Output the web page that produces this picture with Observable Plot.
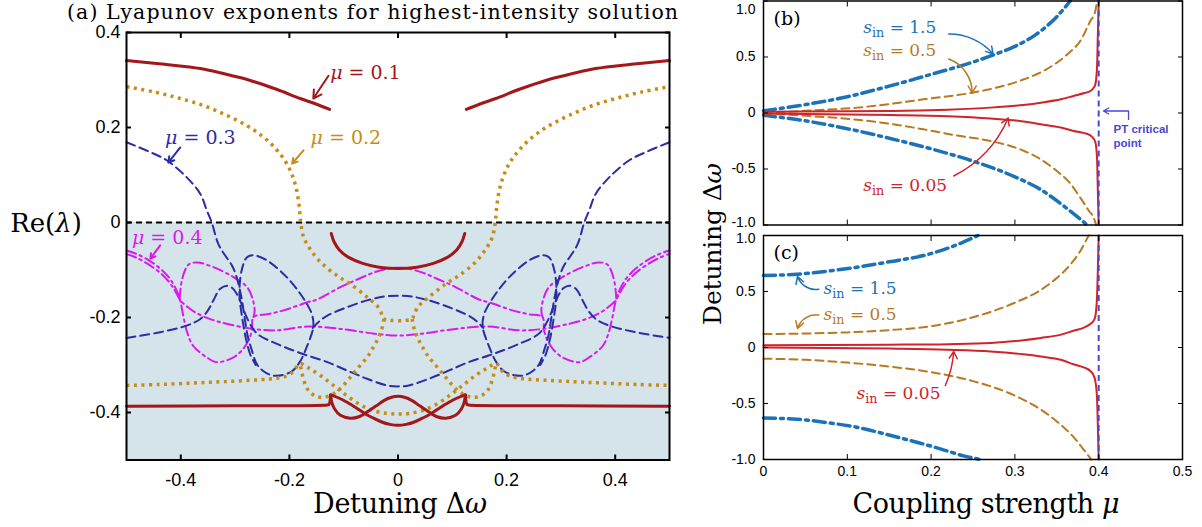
<!DOCTYPE html>
<html><head><meta charset="utf-8">
<script src="https://cdn.jsdelivr.net/npm/d3@7"></script>
<script src="https://cdn.jsdelivr.net/npm/@observablehq/plot@0.6"></script>
<style>
body{margin:0;background:#fff;}
#wrap{position:relative;width:1202px;height:527px;overflow:hidden;background:#fff;}
#wrap svg{position:absolute;overflow:visible;}
</style></head><body><div id="wrap"></div>
<script>
// ================= DATA =================
// Panel (a): Re(lambda) vs detuning, for mu = 0.1, 0.2, 0.3, 0.4
const aXDomain = [-0.5, 0.5];
const aYDomain = [-0.5, 0.4];
const aXTicks = [-0.4, -0.2, 0, 0.2, 0.4];
const aYTicks = [-0.4, -0.2, 0, 0.2, 0.4];
const stabilityThreshold = 0;

// mu = 0.1
const mu01_upperLeft = [[-0.5,0.341],[-0.43,0.333],[-0.364,0.324],[-0.32,0.313],[-0.272,0.299],[-0.225,0.281],[-0.18,0.261],[-0.15,0.249],[-0.126,0.238]];
const mu01_upperRight = [[0.126,0.238],[0.15,0.249],[0.18,0.261],[0.225,0.281],[0.272,0.299],[0.32,0.313],[0.364,0.324],[0.43,0.333],[0.5,0.341]];
const mu01_arc = [[-0.123,-0.023],[-0.118,-0.04],[-0.108,-0.058],[-0.09,-0.074],[-0.065,-0.086],[-0.035,-0.094],[0,-0.097],[0.035,-0.094],[0.065,-0.086],[0.09,-0.074],[0.108,-0.058],[0.118,-0.04],[0.123,-0.023]];
const mu01_floorLeft = [[-0.5,-0.387],[-0.3,-0.386],[-0.13,-0.384],[-0.127,-0.383],[-0.124,-0.363]];
const mu01_floorRight = [[0.124,-0.363],[0.127,-0.383],[0.13,-0.384],[0.3,-0.386],[0.5,-0.387]];
const mu01_lensLow = [[-0.124,-0.363],[-0.108,-0.37],[-0.093,-0.379],[-0.076,-0.391],[-0.06,-0.403],[-0.045,-0.412],[-0.03,-0.42],[-0.015,-0.425],[0,-0.427],[0.015,-0.425],[0.03,-0.42],[0.045,-0.412],[0.06,-0.403],[0.076,-0.391],[0.093,-0.379],[0.108,-0.37],[0.124,-0.363]];
const mu01_lensHigh = [[-0.124,-0.363],[-0.122,-0.378],[-0.117,-0.392],[-0.106,-0.406],[-0.088,-0.412],[-0.072,-0.409],[-0.057,-0.399],[-0.04,-0.386],[-0.026,-0.375],[-0.012,-0.368],[0,-0.366],[0.012,-0.368],[0.026,-0.375],[0.04,-0.386],[0.057,-0.399],[0.072,-0.409],[0.088,-0.412],[0.106,-0.406],[0.117,-0.392],[0.122,-0.378],[0.124,-0.363]];

// mu = 0.2
const mu02_upper = [[-0.5,0.286],[-0.45,0.275],[-0.404,0.262],[-0.36,0.247],[-0.32,0.228],[-0.28,0.205],[-0.25,0.182],[-0.225,0.155],[-0.207,0.128],[-0.195,0.1],[-0.187,0.07],[-0.182,0.035],[-0.179,0],[-0.174,-0.03],[-0.164,-0.052],[-0.143,-0.083],[-0.112,-0.112],[-0.087,-0.13],[-0.057,-0.157],[-0.038,-0.176],[-0.029,-0.195],[-0.026,-0.203],[0.026,-0.203],[0.029,-0.195],[0.038,-0.176],[0.057,-0.157],[0.087,-0.13],[0.112,-0.112],[0.143,-0.083],[0.164,-0.052],[0.174,-0.03],[0.179,0],[0.182,0.035],[0.187,0.07],[0.195,0.1],[0.207,0.128],[0.225,0.155],[0.25,0.182],[0.28,0.205],[0.32,0.228],[0.36,0.247],[0.404,0.262],[0.45,0.275],[0.5,0.286]];
const mu02_bowlLeft = [[-0.026,-0.203],[-0.03,-0.225],[-0.036,-0.242],[-0.045,-0.262],[-0.057,-0.284],[-0.072,-0.304],[-0.088,-0.326],[-0.104,-0.347],[-0.119,-0.361],[-0.137,-0.368],[-0.153,-0.365],[-0.166,-0.352],[-0.174,-0.33],[-0.178,-0.31],[-0.181,-0.297]];
const mu02_bowlRight = [[0.026,-0.203],[0.03,-0.225],[0.036,-0.242],[0.045,-0.262],[0.057,-0.284],[0.072,-0.304],[0.088,-0.326],[0.104,-0.347],[0.119,-0.361],[0.137,-0.368],[0.153,-0.365],[0.166,-0.352],[0.174,-0.33],[0.178,-0.31],[0.181,-0.297]];
const mu02_floor = [[-0.5,-0.343],[-0.44,-0.341],[-0.378,-0.338],[-0.32,-0.335],[-0.255,-0.331],[-0.224,-0.328],[-0.205,-0.323],[-0.192,-0.313],[-0.181,-0.297],[-0.165,-0.306],[-0.143,-0.322],[-0.119,-0.343],[-0.095,-0.364],[-0.069,-0.384],[-0.045,-0.396],[-0.02,-0.402],[0,-0.403],[0.02,-0.402],[0.045,-0.396],[0.069,-0.384],[0.095,-0.364],[0.119,-0.343],[0.143,-0.322],[0.165,-0.306],[0.181,-0.297],[0.192,-0.313],[0.205,-0.323],[0.224,-0.328],[0.255,-0.331],[0.32,-0.335],[0.378,-0.338],[0.44,-0.341],[0.5,-0.343]];

// mu = 0.3
const mu03_branchLeft = [[-0.5,0.169],[-0.46,0.15],[-0.426,0.131],[-0.389,0.095],[-0.364,0.06],[-0.352,0.025],[-0.343,0],[-0.331,-0.045],[-0.318,-0.07],[-0.306,-0.09],[-0.298,-0.112],[-0.289,-0.154],[-0.283,-0.196],[-0.277,-0.238],[-0.27,-0.266],[-0.26,-0.298],[-0.249,-0.312],[-0.231,-0.322],[-0.212,-0.321],[-0.194,-0.312],[-0.181,-0.294],[-0.168,-0.262],[-0.156,-0.22],[-0.158,-0.195],[-0.166,-0.175],[-0.18,-0.15],[-0.205,-0.115],[-0.241,-0.08],[-0.266,-0.069],[-0.278,-0.073],[-0.288,-0.101],[-0.292,-0.15],[-0.287,-0.2],[-0.28,-0.245],[-0.272,-0.278],[-0.262,-0.3]];
const mu03_branchRight = [[0.5,0.169],[0.46,0.15],[0.426,0.131],[0.389,0.095],[0.364,0.06],[0.352,0.025],[0.343,0],[0.331,-0.045],[0.318,-0.07],[0.306,-0.09],[0.298,-0.112],[0.289,-0.154],[0.283,-0.196],[0.277,-0.238],[0.27,-0.266],[0.26,-0.298],[0.249,-0.312],[0.231,-0.322],[0.212,-0.321],[0.194,-0.312],[0.181,-0.294],[0.168,-0.262],[0.156,-0.22],[0.158,-0.195],[0.166,-0.175],[0.18,-0.15],[0.205,-0.115],[0.241,-0.08],[0.266,-0.069],[0.278,-0.073],[0.288,-0.101],[0.292,-0.15],[0.287,-0.2],[0.28,-0.245],[0.272,-0.278],[0.262,-0.3]];
const mu03_wave = [[-0.5,-0.243],[-0.438,-0.231],[-0.389,-0.217],[-0.364,-0.203],[-0.35,-0.185],[-0.34,-0.164],[-0.328,-0.14],[-0.315,-0.133],[-0.305,-0.138],[-0.297,-0.15],[-0.288,-0.172],[-0.28,-0.196],[-0.267,-0.224],[-0.255,-0.238],[-0.224,-0.255],[-0.194,-0.269],[-0.167,-0.28],[-0.13,-0.294],[-0.093,-0.312],[-0.057,-0.329],[-0.02,-0.343],[0,-0.345],[0.02,-0.343],[0.057,-0.329],[0.093,-0.312],[0.13,-0.294],[0.167,-0.28],[0.194,-0.269],[0.224,-0.255],[0.255,-0.238],[0.267,-0.224],[0.28,-0.196],[0.288,-0.172],[0.297,-0.15],[0.305,-0.138],[0.315,-0.133],[0.328,-0.14],[0.34,-0.164],[0.35,-0.185],[0.364,-0.203],[0.389,-0.217],[0.438,-0.231],[0.5,-0.243]];
const mu03_arc = [[-0.157,-0.222],[-0.145,-0.208],[-0.13,-0.196],[-0.093,-0.178],[-0.057,-0.164],[-0.026,-0.156],[0,-0.154],[0.026,-0.156],[0.057,-0.164],[0.093,-0.178],[0.13,-0.196],[0.145,-0.208],[0.157,-0.222]];

// mu = 0.4
const mu04_outer = [[-0.5,-0.059],[-0.482,-0.066],[-0.464,-0.076],[-0.439,-0.096],[-0.421,-0.117],[-0.409,-0.14],[-0.401,-0.165],[-0.395,-0.199],[-0.388,-0.232],[-0.377,-0.26],[-0.352,-0.284],[-0.334,-0.294],[-0.303,-0.284],[-0.285,-0.266],[-0.274,-0.245],[-0.269,-0.227],[-0.266,-0.199],[-0.24,-0.193],[-0.211,-0.185],[-0.167,-0.168],[-0.149,-0.162],[-0.106,-0.136],[-0.075,-0.12],[-0.044,-0.105],[-0.014,-0.096],[0,-0.095],[0.014,-0.096],[0.044,-0.105],[0.075,-0.12],[0.106,-0.136],[0.149,-0.162],[0.167,-0.168],[0.211,-0.185],[0.24,-0.193],[0.266,-0.199],[0.269,-0.227],[0.274,-0.245],[0.285,-0.266],[0.303,-0.284],[0.334,-0.294],[0.352,-0.284],[0.377,-0.26],[0.388,-0.232],[0.395,-0.199],[0.401,-0.165],[0.409,-0.14],[0.421,-0.117],[0.439,-0.096],[0.464,-0.076],[0.482,-0.066],[0.5,-0.059]];
const mu04_inner = [[-0.5,-0.066],[-0.482,-0.074],[-0.464,-0.085],[-0.439,-0.105],[-0.421,-0.126],[-0.41,-0.145],[-0.4,-0.165],[-0.385,-0.18],[-0.372,-0.19],[-0.347,-0.203],[-0.316,-0.213],[-0.267,-0.224],[-0.224,-0.227],[-0.167,-0.219],[-0.106,-0.224],[-0.044,-0.234],[0,-0.238],[0.044,-0.234],[0.106,-0.224],[0.167,-0.219],[0.224,-0.227],[0.267,-0.224],[0.316,-0.213],[0.347,-0.203],[0.372,-0.19],[0.385,-0.18],[0.4,-0.165],[0.41,-0.145],[0.421,-0.126],[0.439,-0.105],[0.464,-0.085],[0.482,-0.074],[0.5,-0.066]];
const mu04_loopLeft = [[-0.402,-0.16],[-0.401,-0.145],[-0.398,-0.122],[-0.392,-0.1],[-0.385,-0.088],[-0.37,-0.084],[-0.34,-0.094],[-0.303,-0.115],[-0.278,-0.136],[-0.268,-0.16],[-0.264,-0.185],[-0.266,-0.199]];
const mu04_loopRight = [[0.402,-0.16],[0.401,-0.145],[0.398,-0.122],[0.392,-0.1],[0.385,-0.088],[0.37,-0.084],[0.34,-0.094],[0.303,-0.115],[0.278,-0.136],[0.268,-0.16],[0.264,-0.185],[0.266,-0.199]];

const aLabels = [
  {text: "μ = 0.1", x: -0.125, y: 0.314, series: "mu01"},
  {text: "μ = 0.2", x: -0.161, y: 0.179, series: "mu02"},
  {text: "μ = 0.3", x: -0.429, y: 0.179, series: "mu03"},
  {text: "μ = 0.4", x: -0.49, y: -0.032, series: "mu04"}
];
const aPointers = [
  {x1: -0.128, y1: 0.309, x2: -0.156, y2: 0.261, series: "mu01"},
  {x1: -0.174, y1: 0.152, x2: -0.195, y2: 0.124, series: "mu02"},
  {x1: -0.401, y1: 0.158, x2: -0.423, y2: 0.126, series: "mu03"},
  {x1: -0.438, y1: -0.048, x2: -0.456, y2: -0.076, series: "mu04"}
];

// Panels (b), (c): detuning vs coupling strength mu, for s_in = 1.5, 0.5, 0.05
const muDomain = [0, 0.5];
const dwDomain = [-1, 1];
const muTicks = [0, 0.1, 0.2, 0.3, 0.4, 0.5];
const dwTicks = [-1, -0.5, 0, 0.5, 1];
const ptCritical = 0.4;

const b_s15_up = [[0,0.02],[0.05,0.075],[0.1,0.145],[0.15,0.24],[0.2,0.345],[0.25,0.455],[0.275,0.52],[0.3,0.595],[0.325,0.7],[0.35,0.86],[0.366,1.0]];
const b_s15_lo = [[0,-0.02],[0.05,-0.07],[0.1,-0.14],[0.15,-0.225],[0.2,-0.32],[0.25,-0.43],[0.3,-0.57],[0.33,-0.68],[0.36,-0.84],[0.38,-0.96],[0.386,-1.0]];
const b_s05_up = [[0,0],[0.05,0.02],[0.112,0.048],[0.15,0.08],[0.191,0.122],[0.249,0.181],[0.28,0.23],[0.311,0.301],[0.33,0.36],[0.35,0.449],[0.365,0.54],[0.378,0.643],[0.39,0.821],[0.396,0.911],[0.398,1.0]];
const b_s05_lo = [[0,-0.005],[0.05,-0.025],[0.112,-0.06],[0.15,-0.095],[0.191,-0.146],[0.23,-0.2],[0.271,-0.25],[0.311,-0.339],[0.33,-0.41],[0.35,-0.518],[0.365,-0.62],[0.378,-0.756],[0.388,-0.87],[0.394,-0.935],[0.397,-1.0]];
const b_s005_up = [[0,0.012],[0.152,0.018],[0.22,0.03],[0.271,0.048],[0.31,0.072],[0.331,0.092],[0.355,0.122],[0.37,0.152],[0.383,0.178],[0.39,0.196],[0.394,0.225],[0.396,0.256],[0.398,0.405],[0.399,0.7],[0.4,1.0]];
const b_s005_lo = [[0,-0.005],[0.152,-0.018],[0.22,-0.03],[0.271,-0.05],[0.31,-0.075],[0.331,-0.1],[0.355,-0.13],[0.37,-0.16],[0.383,-0.18],[0.39,-0.2],[0.394,-0.23],[0.396,-0.26],[0.398,-0.4],[0.399,-0.7],[0.4,-1.0]];

const c_s15_up = [[0,0.643],[0.04,0.655],[0.08,0.685],[0.112,0.717],[0.15,0.765],[0.191,0.821],[0.225,0.9],[0.256,1.0]];
const c_s15_lo = [[0,-0.63],[0.04,-0.64],[0.072,-0.667],[0.11,-0.71],[0.152,-0.786],[0.185,-0.85],[0.211,-0.905],[0.24,-0.97],[0.259,-1.0]];
const c_s05_up = [[0,0.12],[0.05,0.125],[0.1,0.135],[0.15,0.155],[0.2,0.19],[0.25,0.27],[0.3,0.4],[0.33,0.51],[0.35,0.62],[0.365,0.73],[0.378,0.86],[0.388,1.0]];
const c_s05_lo = [[0,-0.1],[0.05,-0.11],[0.1,-0.135],[0.15,-0.17],[0.2,-0.22],[0.25,-0.3],[0.3,-0.43],[0.33,-0.55],[0.35,-0.66],[0.37,-0.8],[0.383,-0.92],[0.391,-1.0]];
const c_s005_up = [[0,0.02],[0.15,0.025],[0.22,0.03],[0.271,0.04],[0.31,0.065],[0.331,0.085],[0.355,0.115],[0.37,0.15],[0.383,0.18],[0.39,0.21],[0.394,0.24],[0.396,0.28],[0.398,0.45],[0.399,0.7],[0.4,1.0]];
const c_s005_lo = [[0,0],[0.15,-0.01],[0.22,-0.02],[0.271,-0.035],[0.31,-0.06],[0.331,-0.08],[0.355,-0.11],[0.37,-0.15],[0.383,-0.18],[0.39,-0.21],[0.394,-0.25],[0.396,-0.3],[0.398,-0.45],[0.399,-0.7],[0.4,-1.0]];

const bLabels = [
  {text: "(b)", x: 0.012, y: 0.84, series: "panel"},
  {text: "s_in = 1.5", x: 0.119, y: 0.759, series: "s15"},
  {text: "s_in = 0.5", x: 0.119, y: 0.554, series: "s05"},
  {text: "s_in = 0.05", x: 0.119, y: -0.652, series: "s005"}
];
const bPointers = [
  {x1: 0.221, y1: 0.705, x2: 0.274, y2: 0.527, bend: 25, series: "s15"},
  {x1: 0.221, y1: 0.482, x2: 0.249, y2: 0.179, bend: 35, series: "s05"},
  {x1: 0.227, y1: -0.5625, x2: 0.292, y2: -0.045, bend: -20, series: "s005"}
];
const cLabels = [
  {text: "(c)", x: 0.012, y: 0.848, series: "panel"},
  {text: "s_in = 1.5", x: 0.0716, y: 0.527, series: "s15"},
  {text: "s_in = 0.5", x: 0.0716, y: 0.295, series: "s05"},
  {text: "s_in = 0.05", x: 0.111, y: -0.411, series: "s005"}
];
const cPointers = [
  {x1: 0.066, y1: 0.52, x2: 0.0406, y2: 0.634, bend: 40, series: "s15"},
  {x1: 0.066, y1: 0.29, x2: 0.0406, y2: 0.17, bend: -40, series: "s05"},
  {x1: 0.217, y1: -0.339, x2: 0.227, y2: -0.036, bend: -10, series: "s005"}
];
const ptNote = {text: "PT critical\npoint", x: 0.4177, y: -0.205};
const ptPointer = {x1: 0.4356, y1: 0.018, x2: 0.4057, y2: 0.018, yEnd: -0.0625};

// ================= STYLE =================
const colors = {mu01: "#a3161a", mu02: "#c68c16", mu03: "#2c2ca8", mu04: "#dc18f0",
                s15: "#1b72b9", s05: "#b97a1f", s005: "#d0232a", pt: "#4848d2", panel: "#000"};
const serif = "DejaVu Serif, serif";
const sans = "Liberation Sans, Arial, sans-serif";

const toPts = (arr, seg) => arr.map(([x, y]) => ({x, y, seg}));
const fmtA = d => d === 0 ? "0" : String(d);
const fmtDw = d => d === 0 ? "0" : d.toFixed(1);

function richify(svg) {
  d3.select(svg).selectAll("text").each(function () {
    const s = this.textContent;
    const t = d3.select(this);
    if (s.startsWith("s_in")) {
      t.text(null);
      t.append("tspan").attr("font-style", "italic").text("s");
      t.append("tspan").attr("font-size", "0.75em").attr("dy", "4").text("in");
      t.append("tspan").attr("dy", "-4").text(s.slice(4));
    } else if (s.startsWith("μ")) {
      t.text(null);
      t.append("tspan").attr("font-style", "italic").text("μ");
      t.append("tspan").text(s.slice(1));
    }
  });
}
// nudge a tick label (by its text) vertically, to keep stacked panels' end labels apart / inside the page
function nudge(svg, label, dy) {
  d3.select(svg).selectAll("text").filter(function () { return this.textContent === label; })
    .attr("transform", function () { return (this.getAttribute("transform") || "") + ` translate(0,${dy})`; });
}

const wrap = document.getElementById("wrap");
function place(svg, left, top) {
  svg.style.position = "absolute";
  svg.style.left = left + "px";
  svg.style.top = top + "px";
  wrap.appendChild(svg);
}

// ================= PANEL (a) =================
const red = [mu01_upperLeft, mu01_upperRight, mu01_arc, mu01_floorLeft, mu01_floorRight, mu01_lensLow, mu01_lensHigh].flatMap((a, i) => toPts(a, i));
const gold = [mu02_upper, mu02_bowlLeft, mu02_bowlRight, mu02_floor].flatMap((a, i) => toPts(a, i));
const blue = [mu03_branchLeft, mu03_branchRight, mu03_wave, mu03_arc].flatMap((a, i) => toPts(a, i));
const mag = [mu04_outer, mu04_inner, mu04_loopLeft, mu04_loopRight].flatMap((a, i) => toPts(a, i));

const plotA = Plot.plot({
  width: 700, height: 527,
  marginLeft: 126, marginRight: 31, marginTop: 32, marginBottom: 67.5,
  x: {domain: aXDomain}, y: {domain: aYDomain},
  style: {fontFamily: sans, fontSize: "18px", color: "#000", background: "transparent", overflow: "visible"},
  marks: [
    Plot.rect([{x1: aXDomain[0], x2: aXDomain[1], y1: aYDomain[0], y2: stabilityThreshold}], {x1: "x1", x2: "x2", y1: "y1", y2: "y2", fill: "#d5e4eb"}),
    Plot.ruleY([stabilityThreshold], {stroke: "#000", strokeWidth: 2, strokeDasharray: "6,4"}),
    Plot.line(mag, {x: "x", y: "y", z: "seg", stroke: colors.mu04, strokeWidth: 2, strokeDasharray: "10,4,2.5,4", curve: "catmull-rom"}),
    Plot.line(blue, {x: "x", y: "y", z: "seg", stroke: colors.mu03, strokeWidth: 2, strokeDasharray: "9,5", curve: "catmull-rom"}),
    Plot.line(gold, {x: "x", y: "y", z: "seg", stroke: colors.mu02, strokeWidth: 3.5, strokeDasharray: "3,4.5", strokeLinecap: "butt", curve: "catmull-rom"}),
    Plot.line(red, {x: "x", y: "y", z: "seg", stroke: colors.mu01, strokeWidth: 3, curve: "catmull-rom"}),
    ...aPointers.map(p => Plot.arrow([p], {x1: "x1", y1: "y1", x2: "x2", y2: "y2", stroke: colors[p.series], strokeWidth: 2, headLength: 8})),
    Plot.text(aLabels, {x: "x", y: "y", text: "text", fill: d => colors[d.series], textAnchor: "start", fontFamily: serif, fontSize: 19}),
    Plot.axisX({ticks: aXTicks, anchor: "bottom", tickSize: -5, tickPadding: 18.5, tickFormat: fmtA, label: null, strokeWidth: 2}),
    Plot.axisX({ticks: aXTicks, anchor: "top", tickSize: -5, tickFormat: () => "", label: null, strokeWidth: 2}),
    Plot.axisY({ticks: aYTicks, anchor: "left", tickSize: -5, tickPadding: 11, tickFormat: fmtA, label: null, strokeWidth: 2}),
    Plot.axisY({ticks: aYTicks, anchor: "right", tickSize: -5, tickFormat: () => "", label: null, strokeWidth: 2}),
    Plot.frame({stroke: "#000", strokeWidth: 2})
  ]
});
richify(plotA);
place(plotA, 0, 0);

// ================= PANELS (b), (c) =================
function panel(series, labels, pointers, opts) {
  const s15 = [series.s15up, series.s15lo].flatMap((a, i) => toPts(a, i));
  const s05 = [series.s05up, series.s05lo].flatMap((a, i) => toPts(a, i));
  const s005 = [series.s005up, series.s005lo].flatMap((a, i) => toPts(a, i));
  const marks = [
    Plot.line(s15, {x: "x", y: "y", z: "seg", stroke: colors.s15, strokeWidth: 3.5, strokeDasharray: "12,5,3,5", curve: "monotone-x"}),
    Plot.line(s05, {x: "x", y: "y", z: "seg", stroke: colors.s05, strokeWidth: 2, strokeDasharray: "8,5", curve: "monotone-x"}),
    Plot.line(s005, {x: "x", y: "y", z: "seg", stroke: colors.s005, strokeWidth: 2, curve: "monotone-x"}),
    Plot.ruleX([ptCritical], {stroke: colors.pt, strokeWidth: 2, strokeDasharray: "6,4"}),
    ...pointers.map(p => Plot.arrow([p], {x1: "x1", y1: "y1", x2: "x2", y2: "y2", bend: p.bend, stroke: colors[p.series], strokeWidth: 1.5, headLength: 8})),
    Plot.text(labels, {x: "x", y: "y", text: "text", fill: d => colors[d.series], textAnchor: "start", fontFamily: serif, fontSize: d => d.series === "panel" ? 19 : 17}),
    Plot.axisY({ticks: dwTicks, anchor: "left", tickSize: -5, tickPadding: 13, tickFormat: fmtDw, label: null}),
    Plot.axisY({ticks: dwTicks, anchor: "right", tickSize: -5, tickFormat: () => "", label: null}),
    Plot.axisX({ticks: muTicks, anchor: "bottom", tickSize: -5, tickPadding: 12, tickFormat: opts.xLabels ? fmtA : () => "", label: null}),
    Plot.axisX({ticks: muTicks, anchor: "top", tickSize: -5, tickFormat: () => "", label: null}),
    Plot.frame({stroke: "#000", strokeWidth: 1.5})
  ];
  if (opts.pt) {
    marks.push(
      Plot.arrow([ptPointer], {x1: "x1", y1: "y1", x2: "x2", y2: "y2", stroke: colors.pt, strokeWidth: 1.3, headLength: 7}),
      Plot.link([ptPointer], {x1: "x1", y1: "y1", x2: "x1", y2: "yEnd", stroke: colors.pt, strokeWidth: 1.3}),
      Plot.text([ptNote], {x: "x", y: "y", text: "text", fill: colors.pt, textAnchor: "start", fontFamily: sans, fontWeight: "bold", fontSize: 11.5, lineHeight: 1.2})
    );
  }
  return Plot.plot({
    width: 512, height: opts.height,
    marginLeft: 73, marginRight: 20, marginTop: opts.mt, marginBottom: opts.mb,
    x: {domain: muDomain}, y: {domain: dwDomain},
    style: {fontFamily: sans, fontSize: "14px", color: "#000", background: "transparent", overflow: "visible"},
    marks
  });
}

const plotB = panel({s15up: b_s15_up, s15lo: b_s15_lo, s05up: b_s05_up, s05lo: b_s05_lo, s005up: b_s005_up, s005lo: b_s005_lo},
  bLabels, bPointers, {height: 232, mt: 0.5, mb: 7.5, pt: true, xLabels: false});
richify(plotB);
nudge(plotB, "-1.0", -2);
nudge(plotB, "1.0", 9);
place(plotB, 690, 0);

const plotC = panel({s15up: c_s15_up, s15lo: c_s15_lo, s05up: c_s05_up, s05lo: c_s05_lo, s005up: c_s005_up, s005lo: c_s005_lo},
  cLabels, cPointers, {height: 300, mt: 8, mb: 68, pt: false, xLabels: true});
richify(plotC);
nudge(plotC, "1.0", 3);
place(plotC, 690, 227);

// ================= TITLES & AXIS LABELS =================
const ov = d3.select(wrap).append("svg").attr("width", 1202).attr("height", 527)
  .style("left", "0px").style("top", "0px").style("pointer-events", "none");
function label(x, y, size, parts, len, rotate) {
  const t = ov.append("text").attr("text-anchor", "middle").attr("font-family", serif).attr("font-size", size).attr("fill", "#000")
    .attr("transform", `translate(${x},${y})` + (rotate ? ` rotate(${rotate})` : ""));
  if (len) t.attr("textLength", len).attr("lengthAdjust", "spacing");
  parts.forEach(([s, it]) => t.append("tspan").attr("font-style", it ? "italic" : null).text(s));
}
label(372.5, 18.5, 20.5, [["(a) Lyapunov exponents for highest-intensity solution", false]], 611);
label(46, 232, 26, [["Re(", false], ["λ", true], [")", false]]);
label(400, 513, 27, [["Detuning Δ", false], ["ω", true]], 174);
label(986, 513, 27, [["Coupling strength ", false], ["μ", true]], 267);
label(721, 244, 25, [["Detuning Δ", false], ["ω", true]], 162, -90);
</script></body></html>
